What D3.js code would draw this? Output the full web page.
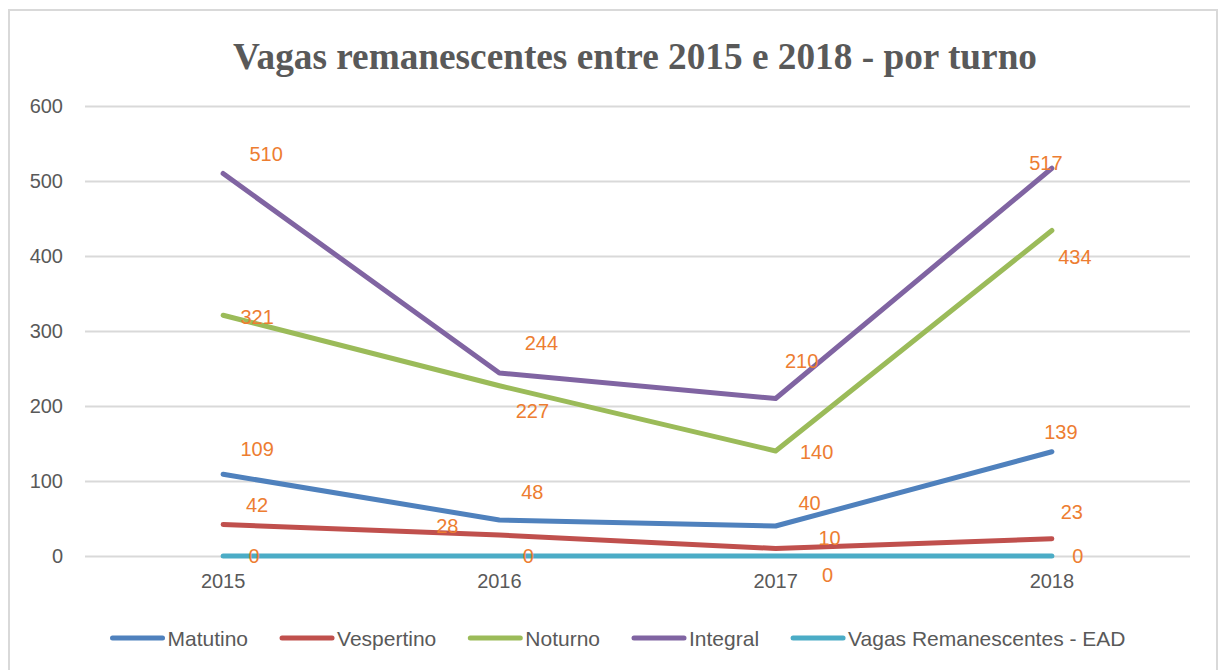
<!DOCTYPE html>
<html>
<head>
<meta charset="utf-8">
<script src="https://cdn.jsdelivr.net/npm/d3@7/dist/d3.min.js"></script>
<style>
  body { margin: 0; background: #fff; }
  svg { display: block; }
</style>
</head>
<body>
<svg id="chart"></svg>
<script>
var width = 1219; // svg width
var height = 670; // svg height

// data
var years = ["2015", "2016", "2017", "2018"];
var matutino = [109, 48, 40, 139];
var vespertino = [42, 28, 10, 23];
var noturno = [321, 227, 140, 434];
var integral = [510, 244, 210, 517];
var ead = [0, 0, 0, 0];
var seriesNames = ["Matutino", "Vespertino", "Noturno", "Integral", "Vagas Remanescentes - EAD"];
var yTicks = [0, 100, 200, 300, 400, 500, 600];

var colors = ["#4F81BD", "#C0504D", "#9BBB59", "#8064A2", "#4BACC6"];
// where each data label sits relative to its point (dx, dy)
var labelOffsets = [
	[[34, -25], [33, -28], [34, -23], [9, -20]],
	[[34, -20], [-52, -9], [54, -11], [20, -27]],
	[[34, 2], [33, 25], [41, 1], [23, 26]],
	[[43, -20], [42, -30], [26, -38], [-6, -5]],
	[[31, 0], [29, 0], [52, 19], [26, 0]]
];

var series = [matutino, vespertino, noturno, integral, ead].map(function (vals, i) {
	return { name: seriesNames[i], values: vals, color: colors[i], offsets: labelOffsets[i] };
});

var svg = d3.select("#chart")
	.attr("width", width)
	.attr("height", height);

// chart frame
svg.append("path")
	.attr("d", "M9,671 V10 H1217 V671")
	.attr("fill", "none")
	.attr("stroke", "#D9D9D9")
	.attr("stroke-width", 2);

var x = d3.scaleBand()
	.domain(years)
	.range([85, 1190]);

var y = d3.scaleLinear()
	.domain([0, 600])
	.range([556, 106]);

var font = "'Liberation Sans', Arial, sans-serif";

// title
svg.append("text")
	.attr("x", 635)
	.attr("y", 69)
	.attr("text-anchor", "middle")
	.attr("font-family", "'Liberation Serif', 'Times New Roman', serif")
	.attr("font-weight", "bold")
	.attr("font-size", 38)
	.attr("textLength", 804)
	.attr("lengthAdjust", "spacingAndGlyphs")
	.attr("fill", "#595959")
	.text("Vagas remanescentes entre 2015 e 2018 - por turno");

// gridlines + y labels
var yAxis = d3.axisLeft(y)
	.tickValues(yTicks)
	.tickSize(-(1190 - 85))
	.tickPadding(22);

var gy = svg.append("g")
	.attr("transform", "translate(85,0)")
	.call(yAxis);
gy.select(".domain").remove();
gy.selectAll(".tick line")
	.attr("stroke", "#D9D9D9")
	.attr("stroke-width", 2);
gy.selectAll(".tick text")
	.attr("font-family", font)
	.attr("font-size", 20)
	.attr("fill", "#595959");

// x labels
var xAxis = d3.axisBottom(x).tickSize(0).tickPadding(18);
var gx = svg.append("g")
	.attr("transform", "translate(0,556)")
	.call(xAxis);
gx.select(".domain").remove();
gx.selectAll(".tick text")
	.attr("font-family", font)
	.attr("font-size", 20)
	.attr("fill", "#595959");

var line = d3.line()
	.x(function (d, i) { return x(years[i]) + x.bandwidth() / 2; })
	.y(function (d) { return y(d); });

// lines
svg.selectAll(".serie")
	.data(series)
	.enter().append("path")
	.attr("class", "serie")
	.attr("d", function (d) { return line(d.values); })
	.attr("fill", "none")
	.attr("stroke", function (d) { return d.color; })
	.attr("stroke-width", 5)
	.attr("stroke-linecap", "round")
	.attr("stroke-linejoin", "round");

// data labels
series.forEach(function (s) {
	svg.selectAll(null)
		.data(s.values)
		.enter().append("text")
		.attr("x", function (d, i) { return x(years[i]) + x.bandwidth() / 2 + s.offsets[i][0]; })
		.attr("y", function (d, i) { return y(d) + s.offsets[i][1]; })
		.attr("text-anchor", "middle")
		.attr("dominant-baseline", "central")
		.attr("font-family", font)
		.attr("font-size", 20)
		.attr("fill", "#ED7D31")
		.text(function (d) { return d; });
});

// legend
var legend = svg.append("g");
var lx = 0;
series.forEach(function (s) {
	var item = legend.append("g").attr("transform", "translate(" + lx + ",0)");
	item.append("line")
		.attr("x1", 2).attr("x2", 52)
		.attr("y1", 0).attr("y2", 0)
		.attr("stroke", s.color)
		.attr("stroke-width", 5)
		.attr("stroke-linecap", "round");
	var t = item.append("text")
		.attr("x", 57)
		.attr("y", 0)
		.attr("dominant-baseline", "central")
		.attr("font-family", font)
		.attr("font-size", 21)
		.attr("fill", "#595959")
		.text(s.name);
	lx += 57 + t.node().getComputedTextLength() + 32;
});
lx -= 32;
legend.attr("transform", "translate(" + (618 - lx / 2) + ",638)");
</script>
</body>
</html>
